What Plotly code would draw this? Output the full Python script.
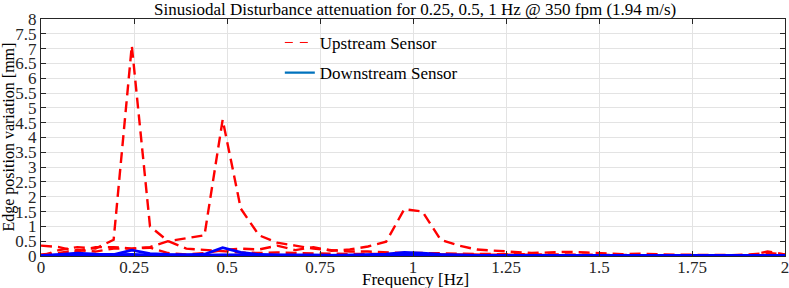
import plotly.graph_objects as go

freq = [round(i / 20.48, 4) for i in range(42)]  # 0 .. 2.002 Hz

up_025 = [0.00, 0.20, 0.30, 0.25, 0.55, 7.10, 1.00, 0.50, 0.25, 0.20, 0.15, 0.12, 0.10, 0.12, 0.10, 0.08,
          0.08, 0.07, 0.08, 0.07, 0.06, 0.06, 0.05, 0.05, 0.05, 0.04, 0.04, 0.04, 0.03, 0.03, 0.03, 0.03,
          0.03, 0.02, 0.02, 0.02, 0.02, 0.02, 0.02, 0.02, 0.15, 0.05]
up_05 = [0.35, 0.30, 0.15, 0.30, 0.30, 0.25, 0.30, 0.50, 0.60, 0.70, 4.60, 1.60, 0.70, 0.45, 0.35, 0.25,
         0.20, 0.15, 0.15, 0.12, 0.10, 0.10, 0.08, 0.08, 0.07, 0.06, 0.06, 0.05, 0.05, 0.05, 0.04, 0.04,
         0.04, 0.03, 0.03, 0.03, 0.03, 0.03, 0.03, 0.03, 0.03, 0.03]
up_1 = [0.05, 0.10, 0.20, 0.15, 0.25, 0.25, 0.28, 0.10, 0.05, 0.10, 0.20, 0.25, 0.22, 0.35, 0.20, 0.30,
        0.18, 0.22, 0.32, 0.48, 1.58, 1.50, 0.55, 0.35, 0.22, 0.18, 0.12, 0.10, 0.12, 0.14, 0.12, 0.08,
        0.06, 0.08, 0.05, 0.04, 0.04, 0.03, 0.03, 0.05, 0.10, 0.05]
dn_025 = [0.00, 0.05, 0.10, 0.06, 0.05, 0.20, 0.08, 0.05, 0.03, 0.03, 0.04, 0.03, 0.03, 0.03, 0.02, 0.02,
          0.02, 0.02, 0.02, 0.02, 0.02, 0.02, 0.02, 0.02, 0.01, 0.01, 0.01, 0.01, 0.01, 0.01, 0.01, 0.01,
          0.01, 0.01, 0.01, 0.01, 0.01, 0.01, 0.01, 0.01, 0.01, 0.01]
dn_05 = [0.02, 0.03, 0.05, 0.03, 0.04, 0.05, 0.03, 0.03, 0.04, 0.06, 0.28, 0.12, 0.05, 0.04, 0.03, 0.03,
         0.02, 0.02, 0.02, 0.02, 0.02, 0.02, 0.02, 0.02, 0.01, 0.01, 0.01, 0.01, 0.01, 0.01, 0.01, 0.01,
         0.01, 0.01, 0.01, 0.01, 0.01, 0.01, 0.01, 0.01, 0.01, 0.01]
dn_1 = [0.01, 0.02, 0.03, 0.02, 0.03, 0.03, 0.02, 0.02, 0.02, 0.02, 0.03, 0.03, 0.02, 0.03, 0.02, 0.03,
        0.02, 0.03, 0.04, 0.06, 0.12, 0.10, 0.05, 0.03, 0.02, 0.02, 0.02, 0.02, 0.01, 0.01, 0.01, 0.01,
        0.01, 0.01, 0.01, 0.01, 0.01, 0.01, 0.01, 0.01, 0.01, 0.01]

TITLE = "Sinusiodal Disturbance attenuation for 0.25, 0.5, 1 Hz @ 350 fpm (1.94 m/s)"
XTITLE = "Frequency [Hz]"
YTITLE = "Edge position variation [mm]"

RED = "#ff0000"
BLUE = "#0000ff"
FONT = "Liberation Serif"

fig = go.Figure()
for ys in (up_025, up_05, up_1):
    fig.add_trace(go.Scatter(x=freq, y=ys, mode="lines", showlegend=False,
                             line=dict(color=RED, width=2.4, dash="11px,6px")))
for ys in (dn_025, dn_05, dn_1):
    fig.add_trace(go.Scatter(x=freq, y=ys, mode="lines", showlegend=False,
                             line=dict(color=BLUE, width=2.8)))

fig.add_trace(go.Scatter(x=[None], y=[None], mode="lines", name="Upstream Sensor",
                         legendgroup="up", line=dict(color=RED, width=1, dash="8px,7px")))
fig.add_trace(go.Scatter(x=[None], y=[None], mode="lines", name="Downstream Sensor",
                         legendgroup="dn", line=dict(color="#0072BD", width=2.2)))

axis_common = dict(showgrid=True, gridcolor="#e3e3e3", gridwidth=1, showline=True,
                   linecolor="#262626", linewidth=1, mirror="ticks", ticks="inside",
                   ticklen=5, tickcolor="#262626", zeroline=False, automargin=False,
                   ticklabeloverflow="allow",
                   tickfont=dict(family=FONT, size=17, color="#262626"))

fig.update_layout(
    width=789, height=288,
    margin=dict(l=41, r=4, t=19, b=32),
    paper_bgcolor="white", plot_bgcolor="white",
    xaxis=dict(range=[0, 2], dtick=0.25, tick0=0, **axis_common),
    yaxis=dict(range=[0, 8], dtick=0.5, tick0=0, **axis_common),
    legend=dict(x=0.321, y=0.975, xanchor="left", yanchor="top", bgcolor="rgba(0,0,0,0)",
                font=dict(family=FONT, size=17, color="black"), tracegroupgap=5,
                traceorder="grouped", itemwidth=30),
    annotations=[
        dict(text=TITLE, xref="paper", yref="paper", x=0.503, y=1.0, yshift=10,
             xanchor="center", yanchor="middle", showarrow=False,
             font=dict(family=FONT, size=17, color="black")),
        dict(text=XTITLE, xref="paper", yref="paper", x=0.503, y=0, yshift=-23,
             xanchor="center", yanchor="middle", showarrow=False,
             font=dict(family=FONT, size=17, color="black")),
        dict(text=YTITLE, xref="paper", yref="paper", x=0, xshift=-33, y=0.5,
             xanchor="center", yanchor="middle", showarrow=False, textangle=-90,
             font=dict(family=FONT, size=16, color="black")),
    ],
)
fig.update_yaxes(ticklabelstandoff=0)
fig.update_xaxes(ticklabelstandoff=-4)

fig.write_html("out.html")
